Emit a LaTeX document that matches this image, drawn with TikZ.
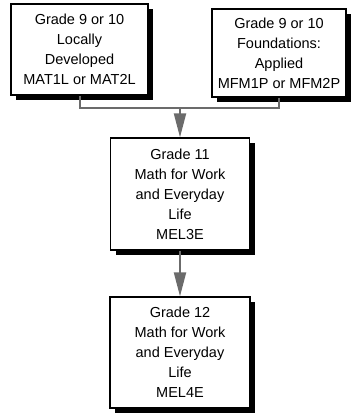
\documentclass[tikz,border=0pt]{standalone}
\usepackage{fontspec}
\setmainfont{Liberation Sans}
\usepackage{tikz}
\usetikzlibrary{arrows.meta}
\usetikzlibrary{shadows}

\begin{document}
\begin{tikzpicture}[x=1pt, y=-1pt,
    course/.style={draw, line width=1.2pt, fill=white, align=center, inner sep=0pt,
        font=\fontsize{14.5}{20}\selectfont,
        drop shadow={fill=black, opacity=1, shadow xshift=5pt, shadow yshift=-5pt}},
    link/.style={draw=black!58, line width=2pt},
    flow/.style={link, -{Triangle[length=24pt, width=12pt]}}]
    \useasboundingbox (0,0) rectangle (352,413);
    \node[course, minimum width=137pt, minimum height=91pt] (lowa) at (79.5,49.5)
        {Grade 9 or 10\\Locally\\Developed\\MAT1L or MAT2L};
    \node[course, minimum width=134pt, minimum height=88pt] (foun) at (279,53)
        {Grade 9 or 10\\Foundations:\\Applied\\MFM1P or MFM2P};
    \node[course, minimum width=139pt, minimum height=112pt] (gr11) at (180,194)
        {Grade 11\\Math for Work\\and Everyday\\Life\\MEL3E};
    \node[course, minimum width=140pt, minimum height=111pt] (gr12) at (180,352.5)
        {Grade 12\\Math for Work\\and Everyday\\Life\\MEL4E};
    \coordinate (join) at (180,108);
    \draw[link] (lowa.south) |- (join) -| (foun.south);
    \draw[flow] (join) -- (gr11.north);
    \draw[flow] (gr11.south) -- (gr12.north);
\end{tikzpicture}
\end{document}
